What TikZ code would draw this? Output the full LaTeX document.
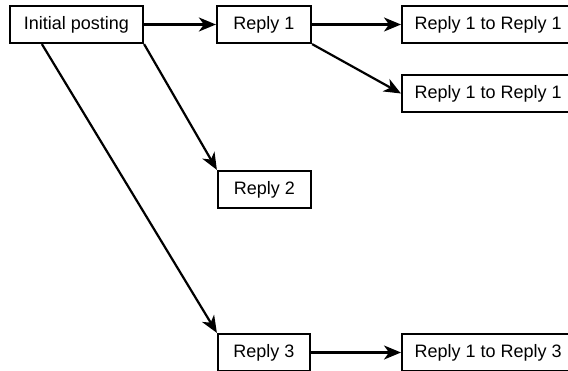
\documentclass[tikz,border=0pt]{standalone}
\usepackage{fontspec}
\setmainfont{Liberation Sans}
\usetikzlibrary{arrows.meta,calc}
\begin{document}
\begin{tikzpicture}[x=1pt,y=1pt,
  box/.style={draw=black,line width=2.2pt,rectangle,minimum height=37pt,inner sep=0pt,font=\fontsize{18}{20}\selectfont,fill=white},
  conn/.style={line width=2.2pt,-{Stealth[length=17pt,width=14pt,inset=5pt]}}]
\useasboundingbox (0,0) rectangle (568,370);
\clip (0,0) rectangle (568,370);
\node[box,minimum width=133pt] (init) at (76.5,345.5) {Initial posting};
\node[box,minimum width=94pt] (r1) at (264,345.5) {Reply 1};
\node[box,minimum width=172pt,anchor=west] (r11) at (401,345.5) {Reply 1 to Reply 1};
\node[box,minimum width=172pt,anchor=west] (r12) at (401,276.5) {Reply 1 to Reply 1};
\node[box,minimum width=93pt] (r2) at (264.5,180.5) {Reply 2};
\node[box,minimum width=92pt] (r3) at (264,17.5) {Reply 3};
\node[box,minimum width=172pt,anchor=west] (r31) at (401,17.5) {Reply 1 to Reply 3};
\coordinate (s3) at ($(init.south west)+(33,0)$);
\draw[conn] (init.east) -- (r1.west);
\draw[conn] (r1.east) -- (r11.west);
\draw[conn] (r1.south east) -- (r12.west);
\draw[conn] (init.south east) -- (r2.north west);
\draw[conn] (s3) -- (r3.north west);
\draw[conn] (r3.east) -- (r31.west);
\end{tikzpicture}
\end{document}
